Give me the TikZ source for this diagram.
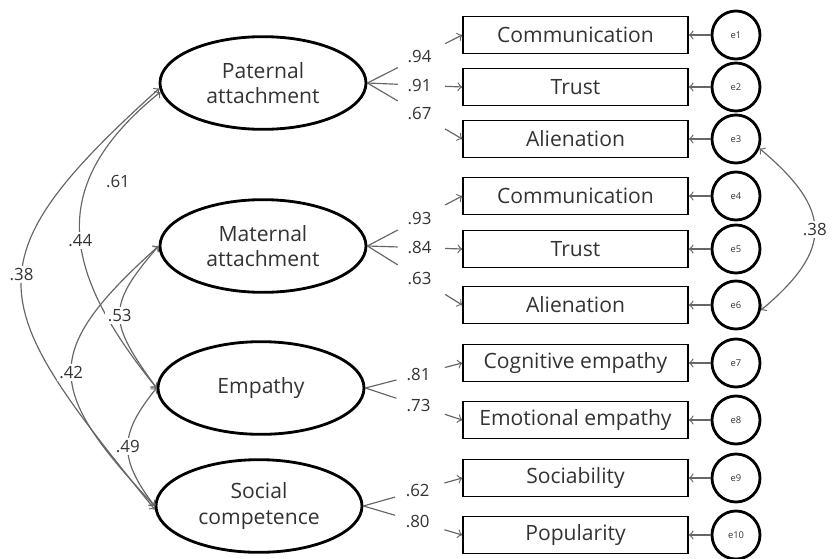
\documentclass[tikz,border=0pt]{standalone}
\usepackage{fontspec}
\setmainfont{Open Sans}
\usetikzlibrary{shapes.geometric,calc}

\tikzset{
  latent/.style={ellipse,draw,line width=1.2pt,minimum width=30.9mm,minimum height=13.9mm,
    align=center,font=\fontsize{9}{11}\selectfont},
  observed/.style={rectangle,draw,line width=0.7pt,minimum width=33.75mm,minimum height=5.5mm,
    inner sep=0pt,font=\fontsize{9}{11}\selectfont},
  errvar/.style={circle,draw,line width=1.2pt,minimum size=7.2mm,inner sep=0pt,
    font=\fontsize{4}{4}\selectfont},
  conn/.style={draw=black!60,line width=0.5pt},
  coef/.style={inner sep=1pt,font=\fontsize{7.2}{8}\selectfont},
}

\begin{document}
\begin{tikzpicture}[x=0.15mm,y=0.15mm,text=black!80]
  \useasboundingbox (0,0) rectangle (838,-558);

  % latent variables
  \node[latent] (pa) at (263,-83) {Paternal\\attachment};
  \node[latent] (ma) at (263,-246) {Maternal\\attachment};
  \node[latent] (em) at (261,-388) {Empathy};
  \node[latent] (sc) at (259,-506) {Social\\competence};

  % indicators and errors
  \foreach \i/\y/\txt in {1/35/Communication, 2/87/Trust, 3/139/Alienation,
      4/196/Communication, 5/249/Trust, 6/305/Alienation, 7/363/Cognitive empathy,
      8/420/Emotional empathy, 9/478/Sociability, 10/535/Popularity} {
    \node[observed] (o\i) at (575.5,-\y) {\txt};
    \node[errvar] (e\i) at (736,-\y) {e\i};
    \draw[conn,->] (e\i) -- (o\i);
  }

  % loadings
  \foreach \lat/\i/\val in {pa/1/.94, pa/2/.91, pa/3/.67, ma/4/.93, ma/5/.84, ma/6/.63,
      em/7/.81, em/8/.73, sc/9/.62, sc/10/.80} {
    \draw[conn] (\lat.east) -- ($(\lat.east)!0.32!(o\i.west)$);
    \draw[conn,->] ($(\lat.east)!0.82!(o\i.west)$) -- (o\i.west);
    \node[coef] (l\i) at ($(\lat.east)!0.55!(o\i.west)$) {\val};
  }

  % correlations
  \draw[conn,<->] (pa.183) to[out=222,in=129,looseness=1.6]
    node[coef,fill=white,pos=0.46] (r1) {.38} (sc.182);
  \draw[conn,<->] (pa.185) to[out=219,in=129,looseness=1.29]
    node[coef,fill=white,pos=0.53] (r2) {.44} (em.west);
  \draw[conn,<->] (ma.west) to[out=222,in=133,looseness=1.57]
    node[coef,fill=white,pos=0.5] (r3) {.42} (sc.west);
  \draw[conn,<->] (ma.west) to[out=229,in=126,looseness=1.46]
    node[coef,fill=white,pos=0.5] (r4) {.53} (em.west);
  \draw[conn,<->] (em.west) to[out=231,in=127,looseness=1.3]
    node[coef,fill=white,pos=0.5] (r5) {.49} (sc.west);
  \node[coef] (r6) at (118,-182) {.61};

  % error covariance
  \draw[conn,<->] (e3.-22) to[out=-40,in=40,looseness=1.5]
    node[coef,fill=white,pos=0.5] (r7) {.38} (e6.-12);
\end{tikzpicture}
\end{document}
